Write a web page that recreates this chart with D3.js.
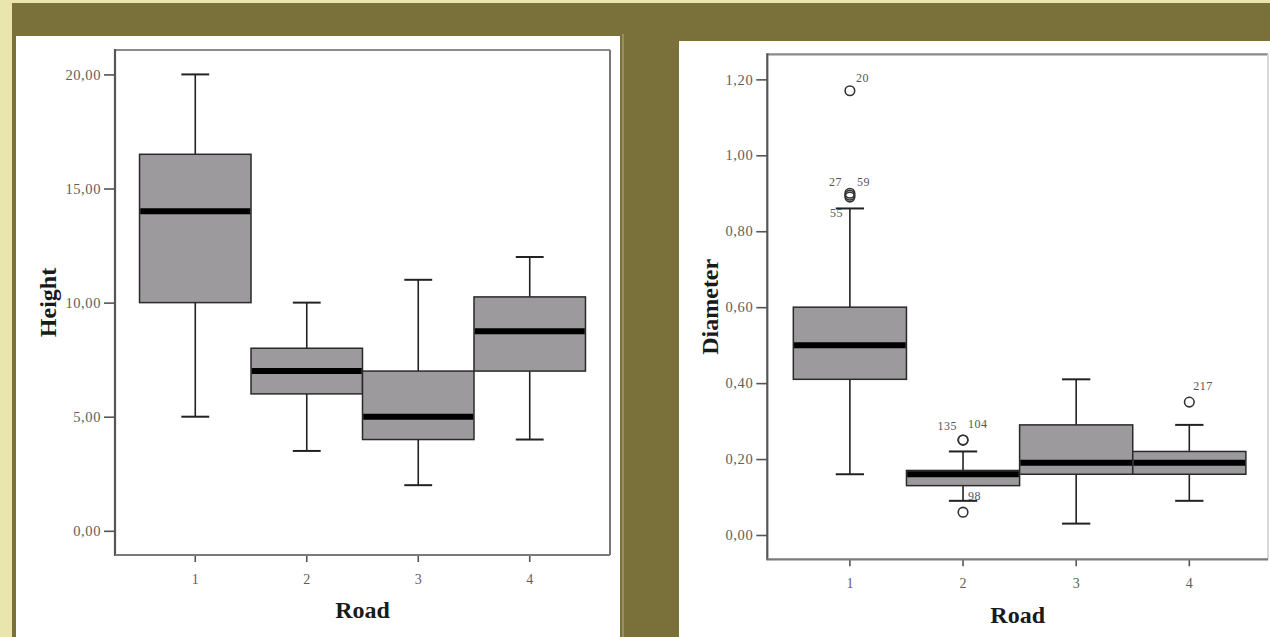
<!DOCTYPE html>
<html>
<head>
<meta charset="utf-8">
<script src="https://cdn.jsdelivr.net/npm/d3@7"></script>
<style>
  html, body { margin: 0; padding: 0; background: #7a7039; }
  svg { display: block; }
</style>
</head>
<body>
<svg id="chart" width="1270" height="637"></svg>
<script>
// ---------- data ----------
const roads = ["1", "2", "3", "4"];

const heightTicks = [0, 5, 10, 15, 20];
const heightMin    = [5, 3.5, 2, 4];
const heightQ1     = [10, 6, 4, 7];
const heightMedian = [14, 7, 5, 8.75];
const heightQ3     = [16.5, 8, 7, 10.25];
const heightMax    = [20, 10, 11, 12];

const diamTicks = [0, 0.2, 0.4, 0.6, 0.8, 1.0, 1.2];
const diamMin    = [0.16, 0.09, 0.03, 0.09];
const diamQ1     = [0.41, 0.13, 0.16, 0.16];
const diamMedian = [0.50, 0.16, 0.19, 0.19];
const diamQ3     = [0.60, 0.17, 0.29, 0.22];
const diamMax    = [0.86, 0.22, 0.41, 0.29];

const diamOutlierRoad  = ["1", "1", "1", "1", "2", "2", "2", "4"];
const diamOutlierValue = [1.17, 0.90, 0.895, 0.89, 0.25, 0.25, 0.06, 0.35];
const diamOutlierId    = ["20", "27", "59", "55", "135", "104", "98", "217"];

// label placement for outlier ids (layout only)
const outlierLabelPlace = {
  "20":  {dx: 6,  dy: -9,  anchor: "start"},
  "27":  {dx: -8, dy: -7,  anchor: "end"},
  "59":  {dx: 7,  dy: -9,  anchor: "start"},
  "55":  {dx: -7, dy: 20,  anchor: "end"},
  "135": {dx: -6, dy: -10, anchor: "end"},
  "104": {dx: 5,  dy: -12, anchor: "start"},
  "98":  {dx: 5,  dy: -12, anchor: "start"},
  "217": {dx: 4,  dy: -12, anchor: "start"}
};

// ---------- drawing ----------
const svg = d3.select("#chart");
const serif = "'Liberation Serif', 'DejaVu Serif', serif";
const fmt = v => d3.format(".2f")(v).replace(".", ",");

// backgrounds
svg.append("rect").attr("x", 0).attr("y", 0).attr("width", 1270).attr("height", 637).attr("fill", "#7a7039");
svg.append("rect").attr("x", 0).attr("y", 0).attr("width", 1270).attr("height", 3).attr("fill", "#e9e5ad");
svg.append("rect").attr("x", 0).attr("y", 0).attr("width", 12).attr("height", 637).attr("fill", "#e9e5ad");
svg.append("line").attr("x1", 623).attr("x2", 623).attr("y1", 34).attr("y2", 637)
  .attr("stroke", "#b5ae80").attr("stroke-width", 1);
svg.append("rect").attr("x", 16).attr("y", 36).attr("width", 604).attr("height", 601).attr("fill", "#fff");
svg.append("rect").attr("x", 679).attr("y", 41).attr("width", 591).attr("height", 596).attr("fill", "#fff");

function drawPanel(cfg) {
  const g = svg.append("g");
  const {left, right, top, bottom} = cfg.frame;

  const x = d3.scaleBand().domain(roads).range([left, right])
    .paddingInner(0).paddingOuter(cfg.outerPad);
  const y = d3.scaleLinear().domain(cfg.yDomain).range([bottom, top]);
  const bw = x.bandwidth();
  const capW = bw * 0.25;

  // frame (top/right lighter)
  g.append("line").attr("x1", left).attr("x2", cfg.frameRight).attr("y1", top).attr("y2", top)
    .attr("stroke", "#8a8a8a").attr("stroke-width", 2.2);
  g.append("line").attr("x1", cfg.frameRight).attr("x2", cfg.frameRight).attr("y1", top).attr("y2", bottom)
    .attr("stroke", cfg.rightColor).attr("stroke-width", 2);

  // y axis
  const yAxis = d3.axisLeft(y).tickValues(cfg.ticks).tickFormat(fmt).tickSize(11).tickPadding(3);
  const ya = g.append("g").attr("transform", `translate(${left},0)`).call(yAxis);
  ya.select(".domain").remove();
  ya.selectAll(".tick line").attr("stroke", "#555").attr("stroke-width", 1.6);
  ya.selectAll(".tick text").attr("font-family", serif).attr("font-size", 14.5)
    .attr("fill", "#5e5e5e").attr("letter-spacing", 0.6);

  // x axis
  const xAxis = d3.axisBottom(x).tickSize(7).tickPadding(12);
  const xa = g.append("g").attr("transform", `translate(0,${bottom})`).call(xAxis);
  xa.select(".domain").remove();
  xa.selectAll(".tick line").attr("stroke", "#555").attr("stroke-width", 1.6);
  xa.selectAll(".tick text").attr("font-family", serif).attr("font-size", 14)
    .attr("fill", "#5e5e5e");

  // axis lines (left & bottom)
  g.append("line").attr("x1", left).attr("x2", left).attr("y1", top - 1).attr("y2", bottom + 1)
    .attr("stroke", "#555").attr("stroke-width", 2.2);
  g.append("line").attr("x1", left).attr("x2", cfg.frameRight).attr("y1", bottom).attr("y2", bottom)
    .attr("stroke", "#7a7a7a").attr("stroke-width", 2.2);

  // boxes
  const rows = roads.map((r, i) => ({
    road: r, min: cfg.min[i], q1: cfg.q1[i], med: cfg.med[i], q3: cfg.q3[i], max: cfg.max[i]
  }));
  const bx = g.append("g").selectAll("g").data(rows).join("g");
  const cx = d => x(d.road) + bw / 2;

  // whiskers
  bx.append("line").attr("x1", cx).attr("x2", cx).attr("y1", d => y(d.max)).attr("y2", d => y(d.q3))
    .attr("stroke", "#222").attr("stroke-width", 1.6);
  bx.append("line").attr("x1", cx).attr("x2", cx).attr("y1", d => y(d.q1)).attr("y2", d => y(d.min))
    .attr("stroke", "#222").attr("stroke-width", 1.6);
  bx.append("line").attr("x1", d => cx(d) - capW / 2).attr("x2", d => cx(d) + capW / 2)
    .attr("y1", d => y(d.max)).attr("y2", d => y(d.max)).attr("stroke", "#222").attr("stroke-width", 2);
  bx.append("line").attr("x1", d => cx(d) - capW / 2).attr("x2", d => cx(d) + capW / 2)
    .attr("y1", d => y(d.min)).attr("y2", d => y(d.min)).attr("stroke", "#222").attr("stroke-width", 2);

  // boxes
  bx.append("rect").attr("x", d => x(d.road)).attr("width", bw)
    .attr("y", d => y(d.q3)).attr("height", d => y(d.q1) - y(d.q3))
    .attr("fill", "#9c9a9c").attr("stroke", "#2a2a2a").attr("stroke-width", 1.5);
  // medians
  bx.append("line").attr("x1", d => x(d.road) + 0.75).attr("x2", d => x(d.road) + bw - 0.75)
    .attr("y1", d => y(d.med)).attr("y2", d => y(d.med))
    .attr("stroke", "#000").attr("stroke-width", 6);

  // outliers
  if (cfg.outRoad) {
    const outs = cfg.outRoad.map((r, i) => ({road: r, v: cfg.outVal[i], id: cfg.outId[i]}));
    const og = g.append("g");
    og.selectAll("circle").data(outs).join("circle")
      .attr("cx", d => x(d.road) + bw / 2).attr("cy", d => y(d.v)).attr("r", 4.8)
      .attr("fill", "none").attr("stroke", "#333").attr("stroke-width", 1.6);
    og.selectAll("text").data(outs).join("text")
      .attr("x", d => x(d.road) + bw / 2 + outlierLabelPlace[d.id].dx)
      .attr("y", d => y(d.v) + outlierLabelPlace[d.id].dy)
      .attr("text-anchor", d => outlierLabelPlace[d.id].anchor)
      .attr("font-family", serif).attr("font-size", 12).attr("fill", "#555")
      .attr("letter-spacing", 0.5)
      .text(d => d.id);
  }

  // axis titles
  g.append("text").attr("x", (left + cfg.frameRight) / 2).attr("y", cfg.xTitleY)
    .attr("text-anchor", "middle").attr("font-family", serif).attr("font-weight", "bold")
    .attr("font-size", 24).attr("fill", "#1a1a1a").text(cfg.xTitle);
  g.append("text")
    .attr("transform", `translate(${cfg.yTitleX},${(top + bottom) / 2}) rotate(-90)`)
    .attr("text-anchor", "middle").attr("font-family", serif).attr("font-weight", "bold")
    .attr("font-size", 24).attr("fill", "#1a1a1a").text(cfg.yTitle);
}

drawPanel({
  frame: {left: 115, right: 610, top: 50, bottom: 555},
  frameRight: 610, rightColor: "#777",
  outerPad: 0.22,
  yDomain: [-1.06, 21.07],
  ticks: heightTicks,
  min: heightMin, q1: heightQ1, med: heightMedian, q3: heightQ3, max: heightMax,
  xTitle: "Road", xTitleY: 618,
  yTitle: "Height", yTitleX: 56
});

drawPanel({
  frame: {left: 767.3, right: 1271.9, top: 54.3, bottom: 559.3},
  frameRight: 1268, rightColor: "#d8d8d8",
  outerPad: 0.23,
  yDomain: [-0.064, 1.266],
  ticks: diamTicks,
  min: diamMin, q1: diamQ1, med: diamMedian, q3: diamQ3, max: diamMax,
  outRoad: diamOutlierRoad, outVal: diamOutlierValue, outId: diamOutlierId,
  xTitle: "Road", xTitleY: 623,
  yTitle: "Diameter", yTitleX: 718
});
</script>
</body>
</html>
